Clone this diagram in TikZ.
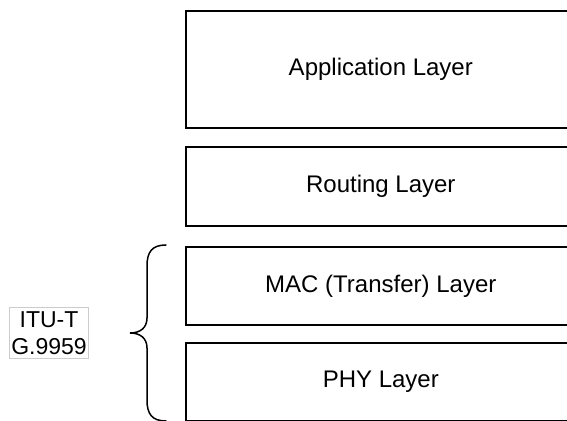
\documentclass[tikz,border=0pt]{standalone}
\usepackage{fontspec}
\setmainfont{Liberation Sans}
\usetikzlibrary{positioning}
\tikzset{
    layer/.style = {rectangle, draw=black, line width=0.8pt, minimum width=195pt, align=center, font=\fontsize{12}{14}\selectfont},
    stdlabel/.style = {rectangle, draw=black!20, line width=0.5pt, minimum width=39pt, minimum height=25.5pt, inner sep=1pt, align=center, font=\fontsize{11.5}{13.5}\selectfont},
    bracel/.style = {line width=0.75pt, black, line cap=round},
    every picture/.style={font issue=\rmfamily},
    font issue/.style={execute at begin picture={#1\selectfont}
  }
}
\begin{document}
\begin{tikzpicture}[x=0.5pt,y=-0.5pt]
\clip (0,0) rectangle (567,421);
%
\node[layer, minimum height=58.5pt, anchor=north west] at (185,10) (app) {Application Layer};
\node[layer, minimum height=39.5pt, below=8.7pt of app] (routing) {Routing Layer};
\node[layer, minimum height=39pt, below=9.7pt of routing] (mac) {MAC (Transfer) Layer};
\node[layer, minimum height=39pt, below=8.2pt of mac] (phy) {PHY Layer};
\node[stdlabel] at (49,333.5) (itu) {ITU-T\\G.9959};
%
% brace over MAC and PHY
\draw[bracel] (166,245) .. controls (152,245) and (147,252) .. (147,266) -- (147,318)
    .. controls (147,328) and (140,333) .. (130,333)
    .. controls (140,333) and (147,338) .. (147,348) -- (147,400)
    .. controls (147,414) and (152,421) .. (166,421);
\end{tikzpicture}
\end{document}
